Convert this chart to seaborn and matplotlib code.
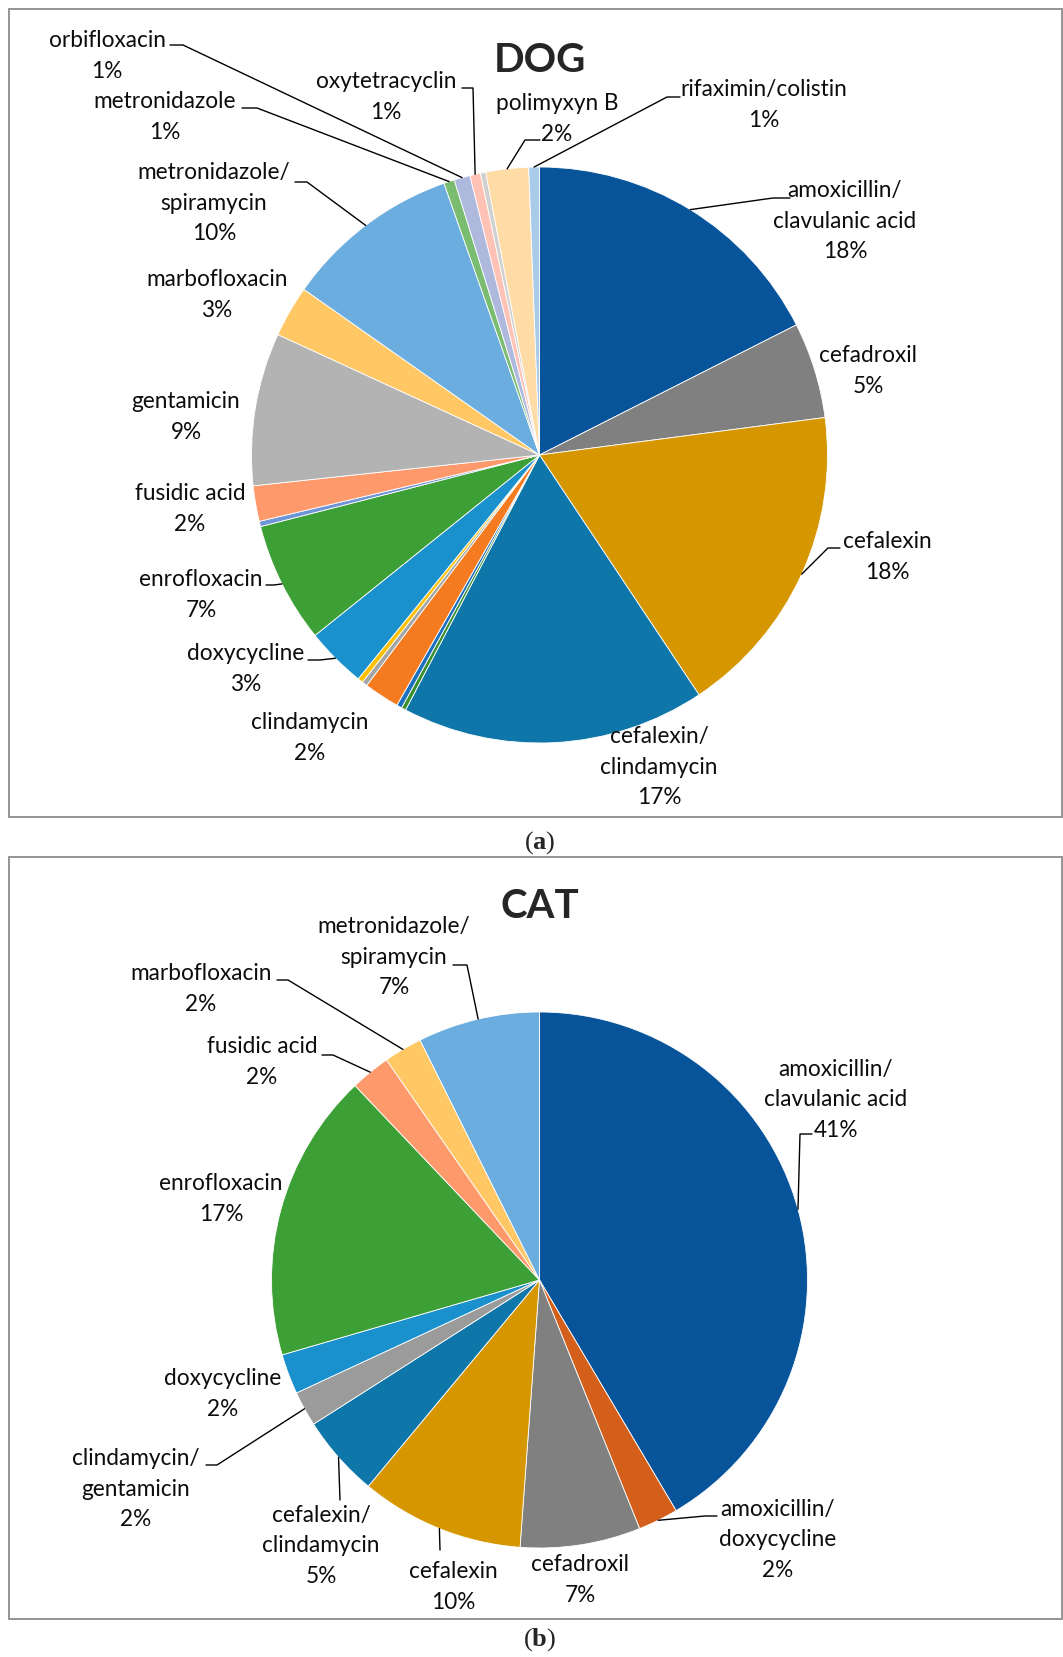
import matplotlib
matplotlib.use("Agg")
import matplotlib.pyplot as plt
import seaborn as sns
from matplotlib.patches import Rectangle
import numpy as np

# DOG - slices clockwise from 12 o'clock ('' = unlabelled sliver)
dog_drugs = ["amoxicillin/\nclavulanic acid", "cefadroxil", "cefalexin",
             "cefalexin/\nclindamycin", "", "", "clindamycin", "", "",
             "doxycycline", "enrofloxacin", "", "fusidic acid", "gentamicin",
             "marbofloxacin", "metronidazole/\nspiramycin", "metronidazole",
             "orbifloxacin", "oxytetracyclin", "", "polimyxyn B",
             "rifaximin/colistin"]
dog_share = [17.6, 5.4, 17.8, 17.1, 0.25, 0.3, 2.0, 0.3, 0.3, 3.4, 6.8, 0.3,
             2.0, 8.6, 2.9, 9.9, 0.6, 0.9, 0.6, 0.3, 2.4, 0.6]
dog_colors = ["#07549B", "#808080", "#D69600", "#0E76A8", "#3B8F2E", "#1D6FBF",
              "#F57B20", "#A5A5A5", "#FFC000", "#1A90CC", "#3DA036", "#6F95D6",
              "#FE996B", "#B3B3B3", "#FFC864", "#6BADDE", "#7ABD70", "#AFB9DE",
              "#FFC2B4", "#D0D0D0", "#FFDBA5", "#AACAEA"]

# CAT
cat_drugs = ["amoxicillin/\nclavulanic acid", "amoxicillin/\ndoxycycline",
             "cefadroxil", "cefalexin", "cefalexin/\nclindamycin",
             "clindamycin/\ngentamicin", "doxycycline", "enrofloxacin",
             "fusidic acid", "marbofloxacin", "metronidazole/\nspiramycin"]
cat_share = [41.2, 2.4, 7.2, 9.8, 4.9, 2.1, 2.4, 17.3, 2.4, 2.3, 7.3]
cat_colors = ["#07549B", "#D35F1A", "#808080", "#D69600", "#0E76A8", "#9B9B9B",
              "#1A90CC", "#3DA036", "#FE996B", "#FFC864", "#6BADDE"]

# label layout (pixel coords, y from top), None = no label
dog_label_pos = [(845, 221), (868, 371), (887, 557), (659, 767), None, None,
                 (310, 738), None, None, (246, 669), (201, 595), None,
                 (190, 509), (186, 417), (217, 295), (214, 203), (165, 117),
                 (107, 56), (386, 97), None, (557, 119), (764, 105)]
dog_leaders = [(790, 198, 773, 198), None, (840, 548, 828, 548), None, None, None,
               None, None, None, (308, 660, 320, 660), (266, 585, 274, 585), None,
               None, None, None, (295, 182, 307, 182), (242, 108, 257, 108),
               (170, 45, 183, 45), (462, 88, 473, 88), None,
               (540, 140, 525, 140), (680, 97, 667, 97)]

cat_label_pos = [(836, 1100), (778, 1540), (580, 1580), (453, 1587), (321, 1546),
                 (136, 1489), (223, 1394), (221, 1199), (262, 1062), (201, 989),
                 (394, 957)]
cat_leaders = [(812, 1134, 800, 1134), (717, 1516, 705, 1516), None,
               (440, 1550, 440, 1550), (340, 1500, 340, 1500),
               (206, 1465, 217, 1465), None, None, (322, 1055, 333, 1055),
               (277, 980, 288, 980), (453, 965, 467, 965)]

W, H = 1063, 1657

sns.set_theme(style="white")
plt.rcParams['font.family'] = ['Lato', 'DejaVu Sans']
plt.rcParams['mathtext.fontset'] = 'custom'
plt.rcParams['mathtext.rm'] = 'Liberation Serif'
plt.rcParams['mathtext.bf'] = 'Liberation Serif:bold'

fig = plt.figure(figsize=(W / 100, H / 100), dpi=100)
ax = fig.add_axes([0, 0, 1, 1])


def draw_pie(ax, drugs, share, colors, center, radius, label_pos, leaders):
    # y axis is flipped later, so counterclock=True reads clockwise on screen
    wedges, _ = ax.pie(share, colors=colors, center=center, radius=radius,
                       startangle=-90, counterclock=True,
                       wedgeprops=dict(edgecolor="white", linewidth=0.6))
    total = sum(share)
    for w, name, v, pos, lead in zip(wedges, drugs, share, label_pos, leaders):
        if pos is None:
            continue
        ax.text(pos[0], pos[1], f"{name}\n{100 * v / total:.0f}%", ha="center",
                va="center", fontsize=16.3, color="#0d0d0d", linespacing=1.53)
        if lead is not None:
            t = np.deg2rad((w.theta1 + w.theta2) / 2)
            px = center[0] + radius * np.cos(t)
            py = center[1] + radius * np.sin(t)
            ax.plot([lead[0], lead[2], px], [lead[1], lead[3], py],
                    color="black", lw=1.0)


draw_pie(ax, dog_drugs, dog_share, dog_colors, (539.5, 455), 288,
         dog_label_pos, dog_leaders)
draw_pie(ax, cat_drugs, cat_share, cat_colors, (539.5, 1280), 268,
         cat_label_pos, cat_leaders)

ax.set_xlim(0, W)
ax.set_ylim(H, 0)
ax.set_aspect("equal")
ax.axis("off")

# panel frames
ax.add_patch(Rectangle((8.5, 8.5), W - 9.5, 808.5, fill=False, ec="#8c8c8c", lw=1.3))
ax.add_patch(Rectangle((8.5, 857), W - 9.5, 762, fill=False, ec="#8c8c8c", lw=1.3))

ax.text(540, 60, "DOG", ha="center", va="center", fontsize=29, fontweight="bold")
ax.text(540, 907, "CAT", ha="center", va="center", fontsize=29, fontweight="bold")

ax.text(540, 843, r"($\mathbf{a}$)", ha="center", va="center", fontsize=19,
        family="Liberation Serif")
ax.text(540, 1640, r"($\mathbf{b}$)", ha="center", va="center", fontsize=19,
        family="Liberation Serif")

fig.savefig("out.png", dpi=100)
